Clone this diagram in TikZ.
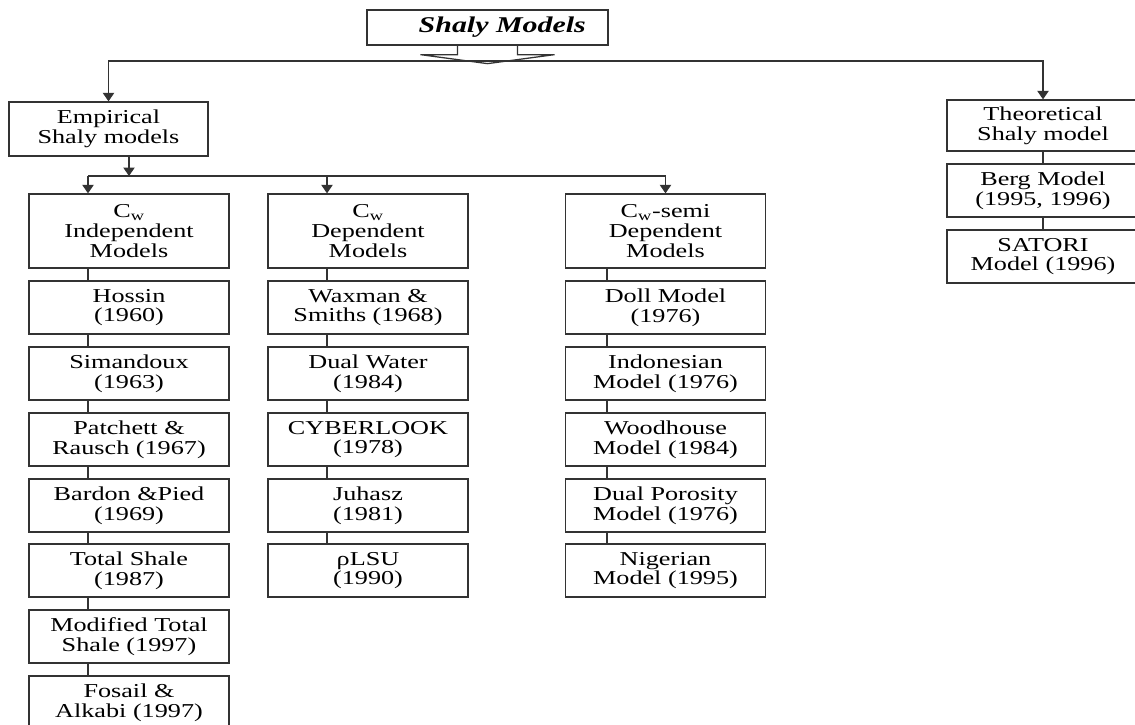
\documentclass[tikz,border=0pt]{standalone}
\usepackage{fontspec}
\setmainfont{Liberation Serif}[FakeStretch=1.33]
\usepackage{tikz}
\usetikzlibrary{arrows.meta,calc,positioning}
\tikzset{%
	box/.style     = {draw=black!80, line width=0.9pt, rectangle, minimum width=5cm, minimum height=1.325cm, inner sep=0pt, align=center, font=\fontsize{14}{14}\selectfont},
	headbox/.style = {box, minimum height=1.85cm},
	link/.style    = {draw=black!80, line width=0.9pt},
	arrow/.style   = {link, -{Triangle[width=8pt,length=6pt]}},
}
\newcommand{\Cw}{C\textsubscript{w}}

\begin{document}
\begin{tikzpicture}[x=0.025cm,y=-0.025cm]
	\useasboundingbox (0,0) rectangle (1135,724);
	\clip (0,0) rectangle (1135,724);
	
	\node[box, minimum width=6.025cm, minimum height=0.875cm, font=\fontsize{16}{16}\selectfont\bfseries\itshape] (shaly) at (487.5,27.5) {\hspace*{21pt}Shaly Models};
	\node[box, minimum width=4.975cm, minimum height=1.35cm] (empir) at (108.5,129) {Empirical\\Shaly models};
	\node[box, minimum width=4.8cm, minimum height=1.275cm] (theo) at (1043,125.5) {Theoretical\\Shaly model};
	\node[box, minimum width=4.8cm] (berg) at (1043,190.5) {Berg Model\\(1995, 1996)};
	\node[box, minimum width=4.8cm] (satori) at (1043,256.5) {SATORI\\Model (1996)};
	
	% Cw independent
	\node[headbox] (indep) at (129,231) {\Cw\\Independent\\Models};
	\node[box] (hossin) at (129,307.5) {Hossin\\(1960)};
	\node[box] (siman) at (129,373.5) {Simandoux\\(1963)};
	\node[box] (patch) at (129,439.5) {Patchett \&\\Rausch (1967)};
	\node[box] (bardon) at (129,505.5) {Bardon \&Pied\\(1969)};
	\node[box] (totsh) at (129,570.5) {Total Shale\\(1987)};
	\node[box] (modts) at (129,636.5) {Modified Total\\Shale (1997)};
	\node[box] (fosail) at (129,702.5) {Fosail \&\\Alkabi (1997)};
	
	% Cw dependent
	\node[headbox] (dep) at (368,231) {\Cw\\Dependent\\Models};
	\node[box] (waxman) at (368,307.5) {Waxman \&\\Smiths (1968)};
	\node[box] (dualw) at (368,373.5) {Dual Water\\(1984)};
	\node[box] (cyber) at (368,439.5) {CYBERLOOK\\(1978)};
	\node[box] (juhasz) at (368,505.5) {Juhasz\\(1981)};
	\node[box] (rlsu) at (368,570.5) {ρLSU\\(1990)};
	
	% Cw semi dependent
	\node[headbox] (semi) at (665.5,231) {\Cw-semi\\Dependent\\Models};
	\node[box] (doll) at (665.5,307.5) {Doll Model\\(1976)};
	\node[box] (indon) at (665.5,373.5) {Indonesian\\Model (1976)};
	\node[box] (woodh) at (665.5,439.5) {Woodhouse\\Model (1984)};
	\node[box] (dualp) at (665.5,505.5) {Dual Porosity\\Model (1976)};
	\node[box] (niger) at (665.5,570.5) {Nigerian\\Model (1995)};
	
	\coordinate (bus) at (487.5,61);
	\coordinate (fork) at (129,176);
	\coordinate (k1) at (88,0);
	\coordinate (k2) at (327,0);
	\coordinate (k3) at (607,0);
	
	% top split
	\draw[link] (shaly.south) ++(-30,0) -- ++(0,9) -- ++(-37,0) -- ++(67,9) -- ++(67,-9) -- ++(-37,0) -- ++(0,-9);
	\draw[arrow] (bus) -| (empir.north);
	\draw[arrow] (bus) -| (theo.north);
	
	\draw[arrow] (empir.south -| fork) -- (fork);
	\draw[link] (k1 |- fork) -- (semi.north |- fork);
	\draw[arrow] (k1 |- fork) -- (indep.north -| k1);
	\draw[arrow] (k2 |- fork) -- (dep.north -| k2);
	\draw[arrow] (semi.north |- fork) -- (semi.north);
	
	\draw[link] (indep.south -| k1) -- (hossin.north -| k1);
	\draw[link] (hossin.south -| k1) -- (siman.north -| k1);
	\draw[link] (siman.south -| k1) -- (patch.north -| k1);
	\draw[link] (patch.south -| k1) -- (bardon.north -| k1);
	\draw[link] (bardon.south -| k1) -- (totsh.north -| k1);
	\draw[link] (totsh.south -| k1) -- (modts.north -| k1);
	\draw[link] (modts.south -| k1) -- (fosail.north -| k1);
	
	\draw[link] (dep.south -| k2) -- (waxman.north -| k2);
	\draw[link] (waxman.south -| k2) -- (dualw.north -| k2);
	\draw[link] (dualw.south -| k2) -- (cyber.north -| k2);
	\draw[link] (cyber.south -| k2) -- (juhasz.north -| k2);
	\draw[link] (juhasz.south -| k2) -- (rlsu.north -| k2);
	
	\draw[link] (semi.south -| k3) -- (doll.north -| k3);
	\draw[link] (doll.south -| k3) -- (indon.north -| k3);
	\draw[link] (indon.south -| k3) -- (woodh.north -| k3);
	\draw[link] (woodh.south -| k3) -- (dualp.north -| k3);
	\draw[link] (dualp.south -| k3) -- (niger.north -| k3);
	
	\draw[link] (theo) -- (berg);
	\draw[link] (berg) -- (satori);
\end{tikzpicture}
\end{document}
